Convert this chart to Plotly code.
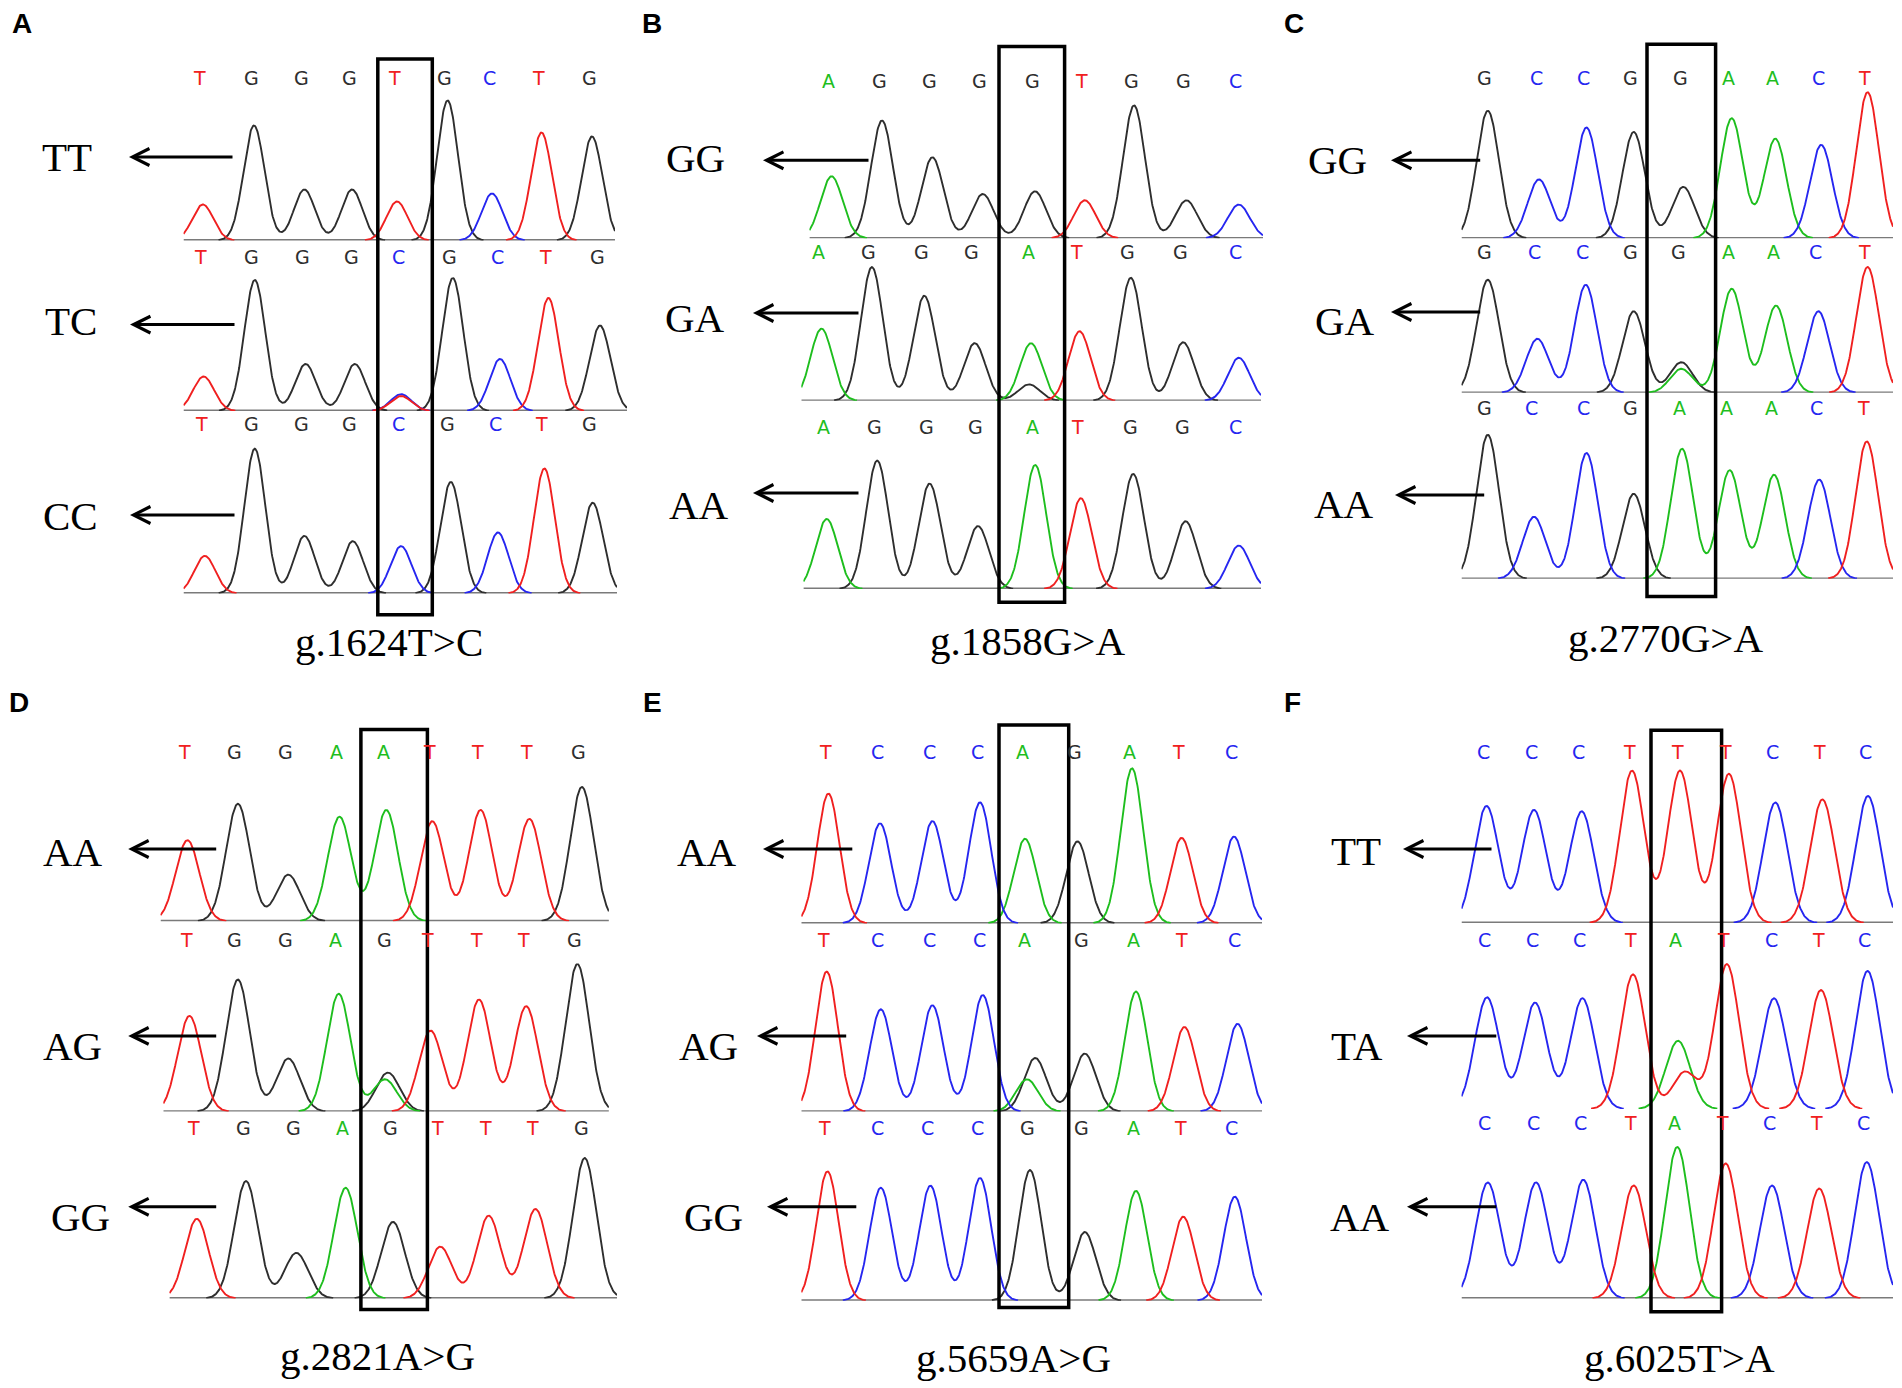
import numpy as np
import plotly.graph_objects as go

# ---------------- data ----------------
# called bases per trace row, peak scan positions, peak heights (signal units)
A_calls = ["TGGGTGCTG", "TGGGCGCTG", "TGGGCGCTG"]
A_pos = [[202.8, 254, 304.4, 352, 397, 447.6, 492, 541.5, 592],
         [203.6, 254.8, 305.6, 354.8, 401, 452.8, 500, 548.4, 600],
         [204.8, 254.8, 304.4, 352.8, 401, 450.8, 498, 544.4, 592.7]]
A_height = [[36, 115, 51, 51, 39, 140, 47, 108, 104],
            [34.5, 131, 47, 47, 16.8, 133, 52, 113, 85.5],
            [37.6, 144.8, 57.6, 52.3, 47.4, 111.6, 61, 125, 90.8]]
A_minor = [None, ("T", 401, 15), None]
A_genotypes = ["TT", "TC", "CC"]
A_title = "g.1624T>C"

B_calls = ["AGGGGTGGC", "AGGGATGGC", "AGGGATGGC"]
B_pos = [[831.6, 882, 932.4, 982.8, 1035, 1084.8, 1134, 1186.4, 1238.8],
         [821.5, 871.9, 924.3, 974.7, 1031, 1079.6, 1130.8, 1183.2, 1238.8],
         [826.7, 877.2, 929.6, 978, 1035.2, 1080.8, 1133.2, 1185.6, 1238.8]]
B_height = [[62, 117.8, 81, 44.3, 47, 38, 132.9, 38, 33.7],
            [72.2, 133.7, 105, 57.6, 57.6, 69.5, 123, 58.5, 43],
            [70, 128.4, 105.4, 62.9, 124, 90.8, 115, 67.8, 43.4]]
B_minor = [None, ("G", 1029, 16.4), None]
B_genotypes = ["GG", "GA", "AA"]
B_title = "g.1858G>A"

C_calls = ["GCCGGAACT", "GCCGGAACT", "GCCGAAACT"]
C_pos = [[1487.8, 1539, 1586.5, 1633.7, 1683.3, 1731.7, 1775.3, 1821.2, 1867.6],
         [1487.8, 1537.4, 1585.7, 1633.7, 1681.3, 1731.7, 1776, 1818.4, 1867.6],
         [1487.8, 1534, 1586.5, 1633.7, 1682, 1729.7, 1774, 1819.2, 1866.8]]
C_height = [[127.5, 58.9, 110.7, 106.3, 51.4, 120, 99.6, 93.4, 146],
            [113, 54, 108, 81.5, 30.6, 104, 87.2, 81.5, 125.8],
            [144, 62, 125.8, 85, 130, 108.5, 104, 99.2, 137.3]]
C_minor = [None, ("A", 1681.3, 24), None]
C_genotypes = ["GG", "GA", "AA"]
C_title = "g.2770G>A"

D_calls = ["TGGAATTTG", "TGGAGTTTG", "TGGAGTTTG"]
D_pos = [[187.5, 237.9, 288.3, 339.5, 386.3, 432.3, 480.6, 529.4, 581.9],
         [189.5, 237.9, 288.3, 338.7, 387.9, 430.6, 479, 526.2, 577.4],
         [196.8, 246, 296.4, 345.6, 393, 440.3, 488.7, 535.5, 584.7]]
D_height = [[81, 117.4, 46.5, 104.5, 111.2, 100, 111.2, 102.3, 134.2],
            [95.7, 132, 53.1, 117.8, 39, 81, 112, 105.4, 147.5],
            [79.7, 117.4, 45.6, 110.7, 76.6, 51.8, 82.8, 89.5, 140.4]]
D_minor = [None, ("A", 385, 32.3), None]
D_genotypes = ["AA", "AG", "GG"]
D_title = "g.2821A>G"

E_calls = ["TCCCAGATC", "TCCCAGATC", "TCCCGGATC"]
E_pos = [[828.4, 880, 932.4, 980, 1025, 1077.5, 1132, 1181.6, 1234],
         [826.7, 880.8, 932.4, 982.8, 1027, 1084.8, 1136, 1184.4, 1237.6],
         [827.5, 880.8, 930.4, 980, 1030, 1084.8, 1136, 1183.2, 1234.8]]
E_height = [[129.8, 100, 102.3, 121, 84.6, 82, 155, 85.5, 86.8],
            [140, 102.3, 106.3, 116.5, 32.3, 58, 120, 84.6, 87.7],
            [129.3, 113, 115, 122.7, 130.6, 68.6, 109.8, 84, 104]]
E_minor = [None, ("G", 1035.2, 53.6), None]
E_genotypes = ["AA", "AG", "GG"]
E_title = "g.5659A>G"

F_calls = ["CCCTTTCTC", "CCCTATCTC", "CCCTATCTC"]
F_pos = [[1486.5, 1534, 1581.7, 1632, 1680, 1728.9, 1775.3, 1822.4, 1868],
         [1487, 1535, 1582.5, 1633, 1678, 1726.9, 1774, 1821, 1867.6],
         [1487.8, 1536, 1583.3, 1633.7, 1677.3, 1725.7, 1772, 1819.2, 1866.8]]
F_height = [[117, 113, 111.6, 152.3, 152.3, 149.2, 120.5, 123.6, 127],
            [111.6, 106.3, 110.7, 134.6, 68.2, 144.8, 110.7, 119, 138],
            [116, 116, 118.7, 113, 151.5, 135, 113, 110, 136.4]]
F_minor = [None, ("T", 1685, 37.2), None]
F_genotypes = ["TT", "TA", "AA"]
F_title = "g.6025T>A"

PANELS = [
    ("A", A_calls, A_pos, A_height, A_minor, A_genotypes, A_title),
    ("B", B_calls, B_pos, B_height, B_minor, B_genotypes, B_title),
    ("C", C_calls, C_pos, C_height, C_minor, C_genotypes, C_title),
    ("D", D_calls, D_pos, D_height, D_minor, D_genotypes, D_title),
    ("E", E_calls, E_pos, E_height, E_minor, E_genotypes, E_title),
    ("F", F_calls, F_pos, F_height, F_minor, F_genotypes, F_title),
]

# ---------------- layout (page pixels) ----------------
W, H = 1902, 1388
YMAX = 175
LAYOUT = {
    "A": dict(base=[240.5, 411, 593.5], xs=[183.5, 183.5, 183.5], xe=[615, 627, 617],
              ly=[77.8, 256.9, 424.3], box=(377.8, 432.3, 58.9, 614.7),
              labels=[(66.5, 157), (70.6, 321), (70.6, 516)],
              arrows=[(129, 234, 157), (130, 236, 324.6), (130, 236, 515)],
              title=(389, 642), tag=(22, 24), sigma=10.5, showbase=[1, 1, 1]),
    "B": dict(base=[238.3, 400.8, 589], xs=[809.4, 801.3, 803.4], xe=[1263, 1261, 1261],
              ly=[81, 252.4, 426.5], box=(999, 1064.6, 46.5, 602.3),
              labels=[(695.3, 158), (695.3, 318), (699.3, 505)],
              arrows=[(763, 870, 160.3), (753, 860, 313), (753, 860, 493)],
              title=(1027, 641), tag=(652, 24), sigma=11, showbase=[1, 1, 1]),
    "C": dict(base=[238.3, 392.8, 578.8], xs=[1461.5] * 3, xe=[1893] * 3,
              ly=[77.5, 252.4, 408.3], box=(1647, 1715.6, 44.3, 596.5),
              labels=[(1337.4, 160.3), (1344.6, 321), (1343.8, 504)],
              arrows=[(1391, 1481.7, 160.3), (1391, 1481.7, 312), (1395, 1485.7, 495)],
              title=(1665, 637.7), tag=(1294, 24), sigma=11.3, showbase=[1, 1, 1]),
    "D": dict(base=[921.2, 1111.6, 1298.5], xs=[160.5, 163.3, 169.4], xe=[608.9, 608.9, 617],
              ly=[751.6, 939.8, 1128], box=(360.9, 427.4, 729.4, 1309.6),
              labels=[(72.6, 852), (72.6, 1046), (80.6, 1216.6)],
              arrows=[(128.2, 217.7, 849), (128.2, 217.7, 1035.9), (128.2, 217.7, 1206.8)],
              title=(377, 1356), tag=(19, 703), sigma=11.8, showbase=[1, 1, 1]),
    "E": dict(base=[923.4, 1111.6, 1300.7], xs=[801.3] * 3, xe=[1262] * 3,
              ly=[751.6, 939.8, 1128], box=(999, 1068.7, 725, 1307.4),
              labels=[(706.6, 852), (708.6, 1046), (713.8, 1216.6)],
              arrows=[(763, 853.8, 849), (757, 847.7, 1035.9), (767, 857.8, 1206.8)],
              title=(1013, 1358), tag=(652, 703), sigma=11.2, showbase=[1, 1, 1]),
    "F": dict(base=[923, 1109, 1298.5], xs=[1461.5] * 3, xe=[1893] * 3,
              ly=[751.6, 939.8, 1122.7], box=(1651, 1721.6, 730.3, 1311.8),
              labels=[(1355.9, 851.2), (1356.7, 1046), (1360, 1216.6)],
              arrows=[(1403, 1493, 849), (1407, 1497.8, 1035.9), (1407, 1497.8, 1206.8)],
              title=(1679, 1358), tag=(1292, 703), sigma=12.2, showbase=[1, 0, 1]),
}

COLORS = {"A": "#1ebe1e", "C": "#2626f0", "G": "#2e2e2e", "T": "#f02020"}
SERIF = "Liberation Serif, Times New Roman, serif"
SANS = "DejaVu Sans, Verdana, sans-serif"


def px(x):
    return x / W


def py(y):
    return 1 - y / H


fig = go.Figure()
shapes, annotations, axes = [], [], {}
n = 0
for key, calls, pos, hts, minor, gts, title in PANELS:
    L = LAYOUT[key]
    sig = L["sigma"]
    for r in range(3):
        n += 1
        xname = "xaxis" if n == 1 else f"xaxis{n}"
        yname = "yaxis" if n == 1 else f"yaxis{n}"
        xref = "x" if n == 1 else f"x{n}"
        yref = "y" if n == 1 else f"y{n}"
        xs, xe, base = L["xs"][r], L["xe"][r], L["base"][r]
        axes[xname] = dict(domain=[px(xs), px(xe)], range=[xs, xe], visible=False,
                           anchor=yref, fixedrange=True)
        axes[yname] = dict(domain=[(H - base) / H, (H - base + YMAX) / H], range=[0, YMAX],
                           visible=False, anchor=xref, fixedrange=True)
        if L["showbase"][r]:
            shapes.append(dict(type="line", xref=xref, yref=yref, x0=xs, x1=xe, y0=0, y1=0,
                               line=dict(color="#7a7a7a", width=2.8), layer="below"))
        peaks = list(zip(calls[r], pos[r], hts[r]))
        if minor[r]:
            peaks.append(minor[r])
        grid = np.linspace(xs, xe, 900)
        for b in "GACT":
            y = np.zeros_like(grid)
            for bb, p, h in peaks:
                if bb == b:
                    y += h * np.exp(-(grid - p) ** 2 / (2 * sig ** 2))
            if not np.any(y > 0.5):
                continue
            yy = np.where(y > 0.35, y, np.nan)
            fig.add_trace(go.Scatter(x=grid, y=yy, mode="lines", xaxis=xref, yaxis=yref,
                                     line=dict(color=COLORS[b], width=1.9),
                                     hoverinfo="skip", showlegend=False))
        # base calls
        for b, p in zip(calls[r], pos[r]):
            annotations.append(dict(text=b, xref=xref, yref="paper", x=p - 3, y=py(L["ly"][r]),
                                    showarrow=False, xanchor="center", yanchor="middle",
                                    font=dict(family=SANS, size=19, color=COLORS[b])))
        # genotype label and arrow
        lx, ly = L["labels"][r]
        annotations.append(dict(text=gts[r], xref="paper", yref="paper", x=px(lx), y=py(ly),
                                showarrow=False, xanchor="center", yanchor="middle",
                                font=dict(family=SERIF, size=41, color="black")))
        hx, tx, ay = L["arrows"][r]
        annotations.append(dict(text="", xref="paper", yref="paper", x=px(hx), y=py(ay),
                                ax=tx - hx, ay=0, axref="pixel", ayref="pixel",
                                showarrow=True, arrowhead=5, arrowsize=1.1, arrowwidth=3,
                                arrowcolor="black", standoff=0, startstandoff=0))
    bx0, bx1, by0, by1 = L["box"]
    shapes.append(dict(type="rect", xref="paper", yref="paper", x0=px(bx0), x1=px(bx1),
                       y0=py(by1), y1=py(by0), line=dict(color="black", width=3.5),
                       fillcolor="rgba(0,0,0,0)", layer="above"))
    tx_, ty_ = L["title"]
    annotations.append(dict(text=title, xref="paper", yref="paper", x=px(tx_), y=py(ty_),
                            showarrow=False, xanchor="center", yanchor="middle",
                            font=dict(family=SERIF, size=41, color="black")))
    gx, gy = L["tag"]
    annotations.append(dict(text=f"<b>{key}</b>", xref="paper", yref="paper", x=px(gx), y=py(gy),
                            showarrow=False, xanchor="center", yanchor="middle",
                            font=dict(family="Liberation Sans, Arial, sans-serif", size=28,
                                      color="black")))

fig.update_layout(width=W, height=H, margin=dict(l=0, r=0, t=0, b=0),
                  paper_bgcolor="white", plot_bgcolor="rgba(0,0,0,0)",
                  showlegend=False, shapes=shapes, annotations=annotations, **axes)

fig.write_html("out.html", include_plotlyjs=True, config={"displayModeBar": False},
               post_script="document.body.style.margin='0';document.body.style.overflow='hidden';")
